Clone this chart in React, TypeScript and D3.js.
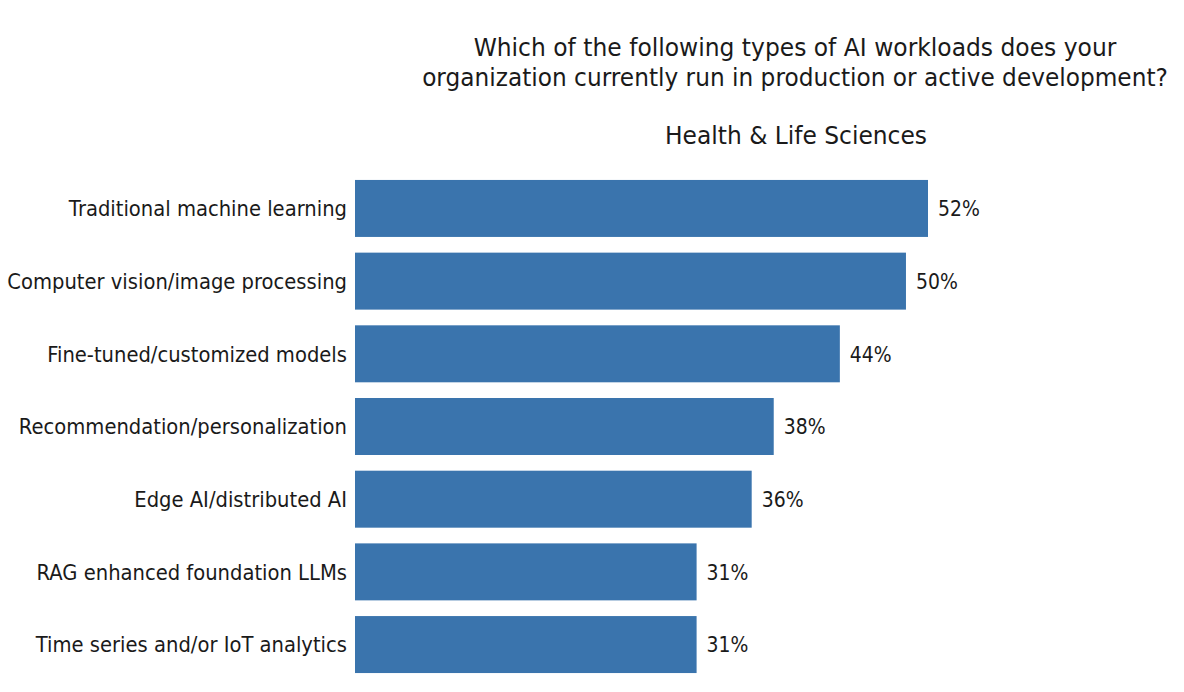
import React, { useEffect, useRef } from 'react';
import { select, scaleLinear, scaleBand } from 'd3';

const categories = [
  'Traditional machine learning',
  'Computer vision/image processing',
  'Fine-tuned/customized models',
  'Recommendation/personalization',
  'Edge AI/distributed AI',
  'RAG enhanced foundation LLMs',
  'Time series and/or IoT analytics',
];
const values = [52, 50, 44, 38, 36, 31, 31];
const titleLines = [
  'Which of the following types of AI workloads does your',
  'organization currently run in production or active development?',
];
const subtitle = 'Health & Life Sciences';

const FONT = '"DejaVu Sans", sans-serif';

const App = () => {
  const svgRef = useRef(null);

  useEffect(() => {
    const svg = select(svgRef.current);
    svg.selectAll('*').remove();

    // scales
    const x = scaleLinear().domain([0, 52]).range([355, 928]);
    const y = scaleBand<string>()
      .domain(categories)
      .range([172.1, 680.9])
      .paddingInner(0.216)
      .paddingOuter(0.108);

    // centred heading text, squeezed horizontally to the original's width
    const heading = (txt: string, cx: number, cy: number, width: number) => {
      const t = svg
        .append('text')
        .attr('text-anchor', 'middle')
        .attr('font-family', FONT)
        .attr('font-size', 24)
        .attr('fill', '#1a1a1a')
        .text(txt);
      const natural = (t.node() as SVGTextElement).getComputedTextLength() || width;
      t.attr('transform', `translate(${cx},${cy}) scale(${width / natural},1)`);
    };

    heading(titleLines[0], 795, 56, 643);
    heading(titleLines[1], 795, 86, 746);
    heading(subtitle, 796, 144, 262);

    // bars
    categories.forEach((cat, i) => {
      const yy = y(cat) as number;
      const h = y.bandwidth();

      svg
        .append('rect')
        .attr('x', x(0))
        .attr('y', yy)
        .attr('width', x(values[i]) - x(0))
        .attr('height', h)
        .attr('fill', '#3a74ad');

      // category label
      svg
        .append('text')
        .attr('transform', `translate(${x(0) - 8},${yy + h / 2}) scale(0.955,1)`)
        .attr('dy', '0.38em')
        .attr('text-anchor', 'end')
        .attr('font-family', FONT)
        .attr('font-size', 20.5)
        .attr('fill', '#1a1a1a')
        .text(cat);

      // value label
      svg
        .append('text')
        .attr('transform', `translate(${x(values[i]) + 10},${yy + h / 2}) scale(0.92,1)`)
        .attr('dy', '0.38em')
        .attr('font-family', FONT)
        .attr('font-size', 20.5)
        .attr('fill', '#1a1a1a')
        .text(`${values[i]}%`);
    });
  }, []);

  return (
    <svg
      ref={svgRef}
      width={1184}
      height={692}
      style={{ position: 'absolute', left: 0, top: 0, background: '#fff' }}
    ></svg>
  );
};

export default App;
